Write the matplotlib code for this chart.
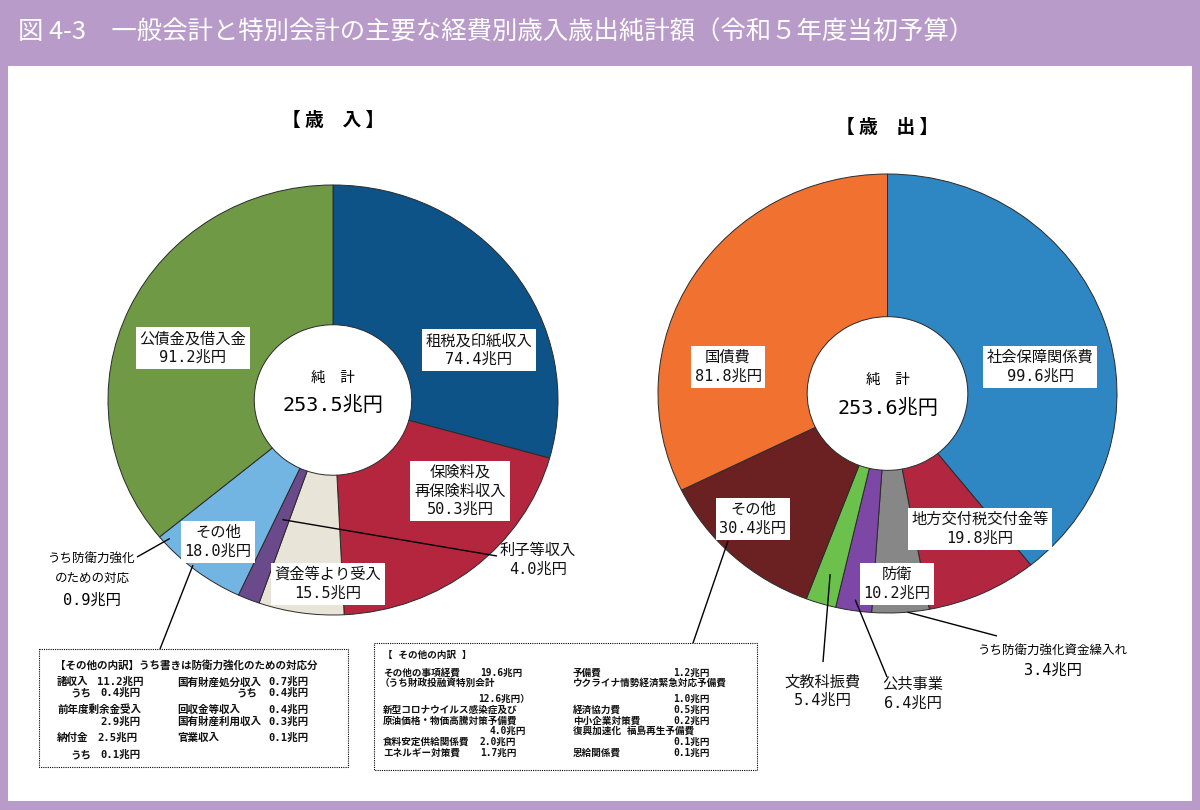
import numpy as np
import matplotlib.pyplot as plt
from matplotlib.patches import Rectangle

plt.rcParams['font.family'] = ['Noto Sans CJK JP', 'DejaVu Sans']
# 数字は等幅（元図のゴシック体に近づける）、漢字は Noto にフォールバック
MONO = ['DejaVu Sans Mono', 'Noto Sans CJK JP']

W, H = 1200, 810

# ─── データ ────────────────────────────────────────────────────────────────
TITLE = "図 4-3　一般会計と特別会計の主要な経費別歳入歳出純計額（令和５年度当初予算）"

# 歳入（12時から時計回り）
rev_names = ["租税及印紙収入", "保険料及\n再保険料収入", "資金等より受入", "利子等収入", "その他", "公債金及借入金"]
rev_values = [74.4, 50.3, 15.5, 4.0, 18.0, 91.2]
rev_colors = ["#0D5388", "#B3263E", "#E8E5D8", "#6A4A8A", "#72B5E2", "#6F9944"]
rev_total = 253.5
rev_defense = 0.9   # うち防衛力強化のための対応

# 歳出（12時から時計回り）
exp_names = ["社会保障関係費", "地方交付税交付金等", "防衛", "公共事業", "文教科振費", "その他", "国債費"]
exp_values = [99.6, 19.8, 10.2, 6.4, 5.4, 30.4, 81.8]
exp_colors = ["#2E86C3", "#B2263F", "#878787", "#7D47A6", "#6CC04C", "#6B2121", "#F07130"]
exp_total = 253.6
exp_defense_fund = 3.4   # うち防衛力強化資金繰入れ

# 歳入 その他の内訳
rev_detail_names = ["諸収入", "うち", "前年度剰余金受入", "納付金", "うち",
                    "国有財産処分収入", "うち", "回収金等収入", "国有財産利用収入", "官業収入"]
rev_detail_values = [11.2, 0.4, 2.9, 2.5, 0.1, 0.7, 0.4, 0.4, 0.3, 0.1]

# 歳出 その他の内訳
exp_detail_names = ["その他の事項経費", "（うち財政投融資特別会計",
                    "新型コロナウイルス感染症及び\n原油価格・物価高騰対策予備費",
                    "食料安定供給関係費", "エネルギー対策費",
                    "予備費", "ウクライナ情勢経済緊急対応予備費", "経済協力費",
                    "中小企業対策費", "復興加速化 福島再生予備費", "恩給関係費"]
exp_detail_values = [19.6, 12.6, 4.0, 2.0, 1.7, 1.2, 1.0, 0.5, 0.2, 0.1, 0.1]


def fmt(v):
    return f"{v:.1f}兆円"


# ─── レイアウト（ピクセル座標）────────────────────────────────────────────
REV_PIE = dict(cx=333, cy=400, rx=225, ry=215)
EXP_PIE = dict(cx=887.5, cy=393.5, rx=229.5, ry=219.5)
HOLE = 0.35

fig = plt.figure(figsize=(W / 100, H / 100), dpi=100)
fig.patch.set_facecolor("#B89BC9")

bg = fig.add_axes([0, 0, 1, 1], zorder=0)
bg.set_xlim(0, W)
bg.set_ylim(H, 0)
bg.axis("off")
bg.add_patch(Rectangle((8, 66), 1184, 735, facecolor="white", edgecolor="none"))


def draw_donut(p, values, colors):
    ax = fig.add_axes([(p["cx"] - p["rx"]) / W, 1 - (p["cy"] + p["ry"]) / H,
                       2 * p["rx"] / W, 2 * p["ry"] / H], zorder=1)
    ax.pie(values, colors=colors, startangle=90, counterclock=False,
           wedgeprops=dict(width=1 - HOLE, edgecolor="#2a2a2a", linewidth=0.7))
    ax.set_aspect("auto")
    ax.set_xlim(-1, 1)
    ax.set_ylim(-1, 1)
    ax.axis("off")


draw_donut(REV_PIE, rev_values, rev_colors)
draw_donut(EXP_PIE, exp_values, exp_colors)

ov = fig.add_axes([0, 0, 1, 1], zorder=2)
ov.set_xlim(0, W)
ov.set_ylim(H, 0)
ov.axis("off")
ov.patch.set_alpha(0)


def pie_point(p, values, idx, frac, r):
    """スライス idx 内の位置 frac (0-1)、半径比 r のピクセル座標"""
    cum = np.concatenate([[0], np.cumsum(values)]) / np.sum(values) * 360
    th = np.deg2rad(cum[idx] + frac * (cum[idx + 1] - cum[idx]))
    return p["cx"] + r * p["rx"] * np.sin(th), p["cy"] - r * p["ry"] * np.cos(th)


def leader(x0, y0, x1, y1):
    ov.plot([x0, x1], [y0, y1], color="black", lw=1.0, solid_capstyle="butt")


BOX = dict(boxstyle="square,pad=0.25", facecolor="white", edgecolor="none")


def label(x, y, name, value, box=True, size=11):
    ov.text(x, y, name + "\n" + fmt(value), fontsize=size, linespacing=1.3,
            family=MONO, ha="center", va="center", color="#111111",
            bbox=BOX if box else None)


ov.text(18, 33, TITLE, fontsize=18.3, color="white", ha="left", va="center")

# ─── 歳入 ──────────────────────────────────────────────────────────────────
ov.text(333, 120, "【 歳　入 】", fontsize=13.5, fontweight="bold", ha="center", va="center")
ov.text(333, 378, "純　計", fontsize=10.5, ha="center", va="center")
ov.text(333, 405, fmt(rev_total), fontsize=14.5, family=MONO, ha="center", va="center")

label(479, 350, rev_names[0], rev_values[0])
label(460, 491, rev_names[1], rev_values[1])
label(328, 584, rev_names[2], rev_values[2])
label(538, 560, rev_names[3], rev_values[3], box=False)
label(218, 542, rev_names[4], rev_values[4])
label(193, 348, rev_names[5], rev_values[5])

ov.text(92, 558, "うち防衛力強化", fontsize=9, ha="center", va="center")
ov.text(92, 578, "のための対応", fontsize=9, ha="center", va="center")
ov.text(92, 600, fmt(rev_defense), fontsize=11, family=MONO, ha="center", va="center")

x, y = pie_point(REV_PIE, rev_values, 3, 0.5, 0.6)
leader(x, y, 497, 556)
x, y = pie_point(REV_PIE, rev_values, 4, 0.92, 0.97)
leader(137, 557, x, y)
leader(193, 565, 160, 649)

# 歳入 その他の内訳 ボックス
ov.add_patch(Rectangle((39, 649), 309, 118, facecolor="white", edgecolor="black",
                       lw=0.8, linestyle=(0, (1, 1))))
dkw = dict(fontsize=7.6, fontweight="bold", va="center", color="#111111", family=MONO)
ov.text(55, 665, "【その他の内訳】うち書きは防衛力強化のための対応分", ha="left", **dkw)
rev_name_pos = [(57, 682), (70, 693), (57, 710), (57, 738), (70, 755),
                (177, 682), (257, 693), (177, 710), (177, 722), (177, 738)]
rev_value_pos = [(97, 682), (100, 693), (100, 722), (97, 738), (100, 755),
                 (268, 682), (268, 693), (268, 710), (268, 722), (268, 738)]
for i, (n, v) in enumerate(zip(rev_detail_names, rev_detail_values)):
    nx, ny = rev_name_pos[i]
    ov.text(nx, ny, n, ha="right" if i == 6 else "left", **dkw)
    vx, vy = rev_value_pos[i]
    ov.text(vx, vy, fmt(v), ha="left", **dkw)

# ─── 歳出 ──────────────────────────────────────────────────────────────────
ov.text(887, 127, "【 歳　出 】", fontsize=13.5, fontweight="bold", ha="center", va="center")
ov.text(888, 380, "純　計", fontsize=10.5, ha="center", va="center")
ov.text(888, 408, fmt(exp_total), fontsize=14.5, family=MONO, ha="center", va="center")

label(1040, 367, exp_names[0], exp_values[0])
label(980, 529, exp_names[1], exp_values[1])
label(897, 584, exp_names[2], exp_values[2])
label(913, 694, exp_names[3], exp_values[3], box=False)
label(823, 691, exp_names[4], exp_values[4], box=False)
label(753, 519, exp_names[5], exp_values[5])
label(728, 367, exp_names[6], exp_values[6])

ov.text(1053, 650, "うち防衛力強化資金繰入れ", fontsize=9, ha="center", va="center")
ov.text(1053, 670, fmt(exp_defense_fund), fontsize=11, family=MONO, ha="center", va="center")

x, y = pie_point(EXP_PIE, exp_values, 4, 0.5, 0.86)
leader(x, y, 823, 662)
x, y = pie_point(EXP_PIE, exp_values, 3, 0.5, 0.95)
leader(x, y, 887, 677)
x, y = pie_point(EXP_PIE, exp_values, 2, 0.38, 1.0)
leader(x, y, 997, 636)
leader(728, 541, 693, 643)

# 歳出 その他の内訳 ボックス
ov.add_patch(Rectangle((374, 643), 383, 127, facecolor="white", edgecolor="black",
                       lw=0.8, linestyle=(0, (1, 1))))
ekw = dict(fontsize=6.9, fontweight="bold", va="center", ha="left", color="#111111", family=MONO)
ov.text(383, 655, "【 その他の内訳 】", **ekw)
exp_name_pos = [(383, 673), (380, 683), (383, 715.5), (383, 742), (383, 753),
                (573, 673), (573, 683), (573, 710), (573, 721), (573, 731), (573, 753)]
exp_value_pos = [(480, 673), (478, 699), (490, 731), (480, 742), (480, 753),
                 (673, 673), (673, 699), (673, 710), (673, 721), (673, 742), (673, 753)]
for i, (n, v) in enumerate(zip(exp_detail_names, exp_detail_values)):
    nx, ny = exp_name_pos[i]
    ov.text(nx, ny, n, linespacing=1.15, **ekw)
    vx, vy = exp_value_pos[i]
    ov.text(vx, vy, fmt(v) + ("）" if i == 1 else ""), **ekw)

fig.savefig("out.png", dpi=100)
